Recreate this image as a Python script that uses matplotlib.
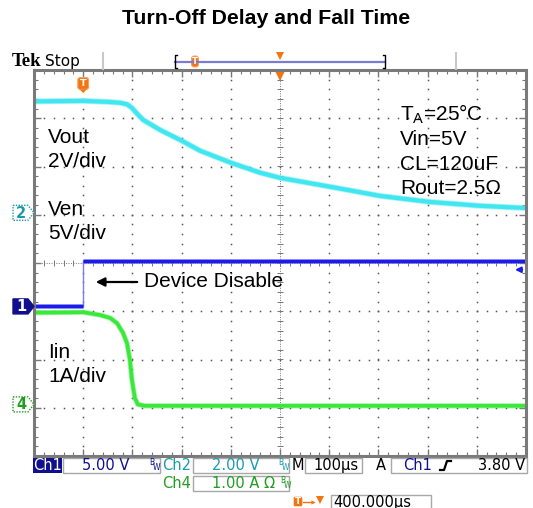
import numpy as np
import matplotlib
matplotlib.use('Agg')
import matplotlib.pyplot as plt
from matplotlib.patches import Polygon, Rectangle, FancyBboxPatch

plt.rcParams['font.family'] = ['Liberation Sans', 'DejaVu Sans']
plt.rcParams['mathtext.fontset'] = 'custom'
plt.rcParams['mathtext.rm'] = 'Liberation Sans'

## scope settings (divisions, ground positions)
ch1_scale, ch1_pos = 5.0, -0.90    # Ven
ch2_scale, ch2_pos = 2.0, 1.04     # Vout
ch4_scale, ch4_pos = 1.0, -2.93    # Iin
trig_level = 3.80
trig_delay = 400                   # us, trigger -> screen center

## traces (t in us from trigger)
vout_t = [-100, 0, 50, 75, 89, 99, 110, 122, 156, 201, 238, 301, 360, 400, 502, 604, 705, 807, 898]
vout_v = [4.62, 4.64, 4.60, 4.56, 4.50, 4.35, 4.10, 3.85, 3.44, 2.98, 2.57, 2.07, 1.66, 1.45, 1.08, 0.70, 0.45, 0.29, 0.20]

ven_t = [-100, 0, 0, 900]
ven_v = [0.05, 0.05, 4.72, 4.72]

iin_t = [-100, 0, 35, 55, 69, 81, 89, 95, 99, 105, 111, 125, 900]
iin_a = [1.90, 1.91, 1.85, 1.79, 1.68, 1.48, 1.27, 0.92, 0.51, 0.13, 0.00, -0.03, -0.03]

CYAN = '#40e6f0'
BLUE = '#1c1ce8'
GREEN = '#3ae83a'
NAVY = '#10108f'
TEAL = '#1a9ca8'
DKGREEN = '#1f9f1f'
ORANGE = '#f27512'
GRID = '#555555'

W, H = 533, 508
L, T, R, B = 34, 70, 526, 456

fig = plt.figure(figsize=(W / 100, H / 100), dpi=100)
ax = fig.add_axes([L / W, 1 - B / H, (R - L) / W, (B - T) / H])
ax.set_xlim(-100, 900)
ax.set_ylim(-4, 4)

def tx(t):
    return L + (t + 100) / 1000 * (R - L)

def dy(d):
    return T + (4 - d) / 8 * (B - T)

##graticule
ys_sub = np.arange(-4, 4.01, 0.2)
xs_sub = np.arange(-100, 900.1, 20)
for gx in range(0, 900, 100):
    if gx == 400:
        continue
    ax.plot(np.full_like(ys_sub, gx), ys_sub, ls='none', marker='s', ms=1.1, color=GRID, mew=0)
for gy in range(-3, 4):
    if gy == 0:
        continue
    ax.plot(xs_sub, np.full_like(xs_sub, gy, dtype=float), ls='none', marker='s', ms=1.1, color=GRID, mew=0)
ax.axhline(0, color='#777777', lw=0.7, ls=(0, (1, 1.5)))
ax.axvline(400, color='#777777', lw=0.7, ls=(0, (1, 1.5)))
ax.vlines(xs_sub, -0.07, 0.07, color='#777777', lw=0.7)
ax.hlines(ys_sub, 393, 407, color='#777777', lw=0.7)

ax.set_xticks(np.arange(-100, 901, 100))
ax.set_xticks(xs_sub, minor=True)
ax.set_yticks(np.arange(-4, 5, 1))
ax.set_yticks(ys_sub, minor=True)
ax.tick_params(which='both', direction='in', top=True, right=True, color='#777777',
               labelbottom=False, labelleft=False)
ax.tick_params(which='major', length=5, width=1)
ax.tick_params(which='minor', length=3, width=0.8)
for s in ax.spines.values():
    s.set_color('#7a7a7a')
    s.set_linewidth(2.2)

##traces
vout_d = np.array(vout_v) / ch2_scale + ch2_pos
ven_d = np.array(ven_v) / ch1_scale + ch1_pos
iin_d = np.array(iin_a) / ch4_scale + ch4_pos

ax.plot(vout_t, vout_d, color=CYAN, lw=4.2, alpha=0.45, solid_capstyle='butt')
ax.plot(vout_t, vout_d, color=CYAN, lw=3.0, solid_capstyle='butt')

ax.plot(iin_t, iin_d, color=GREEN, lw=3.8, alpha=0.45, solid_capstyle='butt')
ax.plot(iin_t, iin_d, color=GREEN, lw=2.6, solid_capstyle='butt')

ax.plot(ven_t[1:3], ven_d[1:3], color='#7b7bf0', lw=1.0)
ax.plot(ven_t[:2], ven_d[:2], color='#6a6af2', lw=3.6, alpha=0.6, solid_capstyle='butt')
ax.plot(ven_t[:2], ven_d[:2], color=BLUE, lw=2.4, solid_capstyle='butt')
ax.plot(ven_t[2:], ven_d[2:], color='#6a6af2', lw=3.6, alpha=0.6, solid_capstyle='butt')
ax.plot(ven_t[2:], ven_d[2:], color=BLUE, lw=2.4, solid_capstyle='butt')

# trigger level arrow on the right edge
lvl = trig_level / ch1_scale + ch1_pos
ax.annotate('', xy=(872, lvl), xytext=(898, lvl),
            arrowprops=dict(arrowstyle='-|>', color=BLUE, lw=1.5, mutation_scale=8))
# trigger position marker at top center
ax.plot([400], [3.9], marker='v', ms=8, color=ORANGE, mew=0, clip_on=False)

##overlay in pixel coords
ov = fig.add_axes([0, 0, 1, 1], facecolor='none')
ov.set_xlim(0, W)
ov.set_ylim(H, 0)
ov.axis('off')

ov.text(266, 18, 'Turn-Off Delay and Fall Time', ha='center', va='center',
        fontsize=15.3, fontweight='bold')

# header
ov.text(12, 66, 'Tek', family=['Liberation Serif'], fontweight='bold', fontsize=13.5, va='baseline')
ov.text(45, 66, 'Stop', family=['DejaVu Sans'], fontsize=11, va='baseline')
ov.plot([103, 103], [53, 69], color='#c8c8c8', lw=1.5)
ov.plot([456, 456], [53, 69], color='#c8c8c8', lw=1.5)
ov.plot([175, 385], [61.5, 61.5], color='#7b7bd0', lw=1.6)
ov.plot([177, 175, 175, 177], [55, 55, 68, 68], color='black', lw=1.0)
ov.plot([383, 385, 385, 383], [55, 55, 68, 68], color='black', lw=1.0)
ov.plot([tx(trig_delay)], [55.5], marker='v', ms=6, color=ORANGE, mew=0)

def t_marker(x, y, w, h):
    ov.add_patch(FancyBboxPatch((x - w / 2, y - h / 2), w, h,
                                boxstyle='round,pad=0.4,rounding_size=2.5',
                                fc=ORANGE, ec='#f5a060', lw=0.8))
    ov.text(x, y, 'T', color='white', fontsize=h * 0.62, fontweight='bold',
            ha='center', va='center', family=['DejaVu Sans'])

# scroll marker in header bar (trigger point position in record)
t_marker(195, 61.5, 6, 10)
# trigger marker on screen
t_marker(tx(0), 83.5, 10, 11)
ov.add_patch(Polygon([(tx(0) - 3.5, 89.5), (tx(0) + 3.5, 89.5), (tx(0), 93)], fc=ORANGE, ec='none'))

# channel ground markers
def ch_marker(y, label, fill, edge, txtc, dotted):
    pts = [(13, y - 7.5), (28, y - 7.5), (34, y), (28, y + 7.5), (13, y + 7.5)]
    ov.add_patch(Polygon(pts, closed=True, fc=fill, ec=edge, lw=1.0,
                         ls=(0, (1, 1)) if dotted else '-'))
    ov.text(21, y + 0.5, label, color=txtc, fontsize=10.5, fontweight='bold',
            ha='center', va='center', family=['DejaVu Sans'])

ch_marker(dy(ch2_pos), '2', 'white', TEAL, TEAL, True)
ch_marker(dy(ch1_pos), '1', NAVY, NAVY, 'white', False)
ch_marker(dy(ch4_pos), '4', 'white', DKGREEN, DKGREEN, True)

# annotations on screen
fs = 15
ov.text(48, 143, 'Vout', fontsize=fs, va='baseline')
ov.text(48, 167, '2V/div', fontsize=fs, va='baseline')
ov.text(48, 215, 'Ven', fontsize=fs, va='baseline')
ov.text(48, 239, '5V/div', fontsize=fs, va='baseline')
ov.text(48, 358, 'Iin', fontsize=fs, va='baseline')
ov.text(48, 382, '1A/div', fontsize=fs, va='baseline')

ov.text(400, 121, r'$\mathregular{T_A}$=25°C', fontsize=fs, va='baseline')
ov.text(400, 145, 'Vin=5V', fontsize=fs, va='baseline')
ov.text(400, 170, 'CL=120uF', fontsize=fs, va='baseline')
ov.text(400, 194, 'Rout=2.5Ω', fontsize=fs, va='baseline')

ov.text(144, 287, 'Device Disable', fontsize=fs, va='baseline')
ov.annotate('', xy=(93, 282), xytext=(140, 282),
            arrowprops=dict(arrowstyle='-|>', color='black', lw=1.6, mutation_scale=13))

##status bar
sfont = dict(family=['DejaVu Sans'], fontsize=10.5, va='center')

def box(x0, y0, x1, y1):
    ov.add_patch(Rectangle((x0, y0), x1 - x0, y1 - y0, fc='white', ec='#a8a8a8', lw=1.0))

def bw(x, y, c):
    ov.text(x, y - 3, 'B', color=c, fontsize=5.5, va='center', family=['DejaVu Sans'])
    ov.text(x + 4, y + 2, 'W', color=c, fontsize=5.5, va='center', family=['DejaVu Sans'])

r1 = 465.5
ov.add_patch(Rectangle((33, 458), 29, 15, fc=NAVY, ec='none'))
ov.text(47.5, r1, 'Ch1', color='white', ha='center', **sfont)
box(63, 458, 160, 473)
ov.text(82, r1, '5.00 V', color=NAVY, **sfont)
bw(149, r1, NAVY)
ov.text(162, r1, 'Ch2', color=TEAL, **sfont)
box(193, 458, 289, 473)
ov.text(212, r1, '2.00 V', color=TEAL, **sfont)
bw(278, r1, TEAL)
ov.text(292, r1, 'M', color='black', **sfont)
box(305, 458, 362, 473)
ov.text(313, r1, '100µs', color='black', **sfont)
ov.text(376, r1, 'A', color='black', **sfont)
box(391, 458, 527, 473)
ov.text(403, r1, 'Ch1', color=NAVY, **sfont)
ov.plot([440, 444, 447, 451], [470, 470, 461, 461], color='black', lw=1.6)
ov.text(525, r1, '3.80 V', color='black', ha='right', **sfont)

r2 = 483.5
ov.text(162, r2, 'Ch4', color=DKGREEN, **sfont)
box(193, 476, 289, 491)
ov.text(212, r2, '1.00 A Ω', color=DKGREEN, **sfont)
bw(280, r2, DKGREEN)

r3 = 501.5
ov.add_patch(FancyBboxPatch((294, 497), 8, 9, boxstyle='round,pad=0.3,rounding_size=1.5',
                            fc=ORANGE, ec='none'))
ov.text(298, r3, 'T', color='white', fontsize=6.5, fontweight='bold', ha='center', va='center',
        family=['DejaVu Sans'])
ov.plot([303, 313], [r3, r3], color=ORANGE, lw=1.0)
ov.plot([313], [r3], marker='>', ms=3, color=ORANGE, mew=0)
ov.plot([320], [r3 - 1.5], marker='v', ms=6, color=ORANGE, mew=0)
box(331, 495, 431, 510)
ov.text(333, r3 + 0.5, '400.000µs', color='black', **sfont)

fig.savefig('out.png', dpi=100)
